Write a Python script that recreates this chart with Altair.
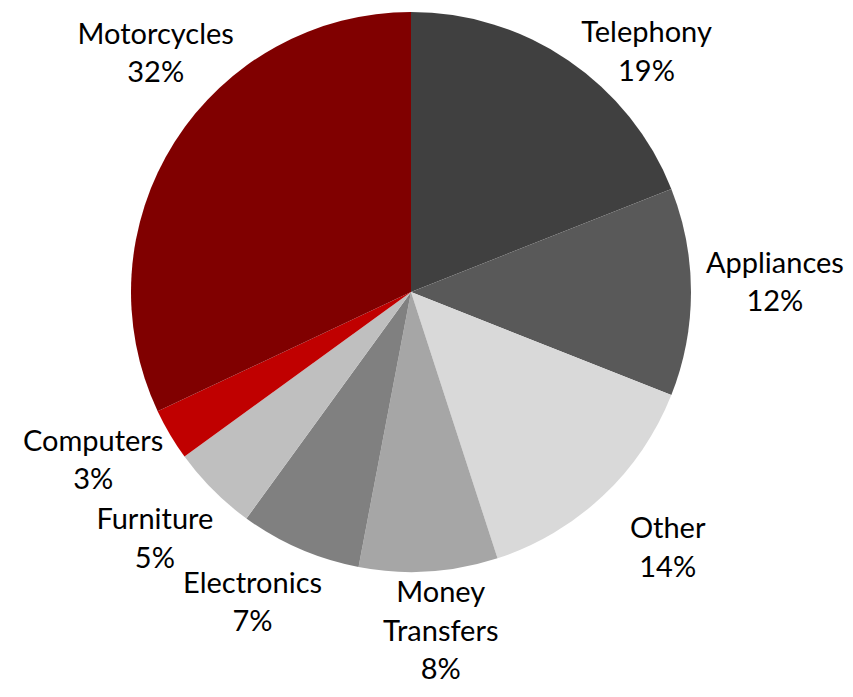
import math
import altair as alt
import pandas as pd

categories = ["Telephony", "Appliances", "Other", "Money Transfers", "Electronics",
              "Furniture", "Computers", "Motorcycles"]
values = [19, 12, 14, 8, 7, 5, 3, 32]
label_lines = ["Telephony", "Appliances", "Other", "Money\nTransfers", "Electronics",
               "Furniture", "Computers", "Motorcycles"]
colors = ["#404040", "#595959", "#d9d9d9", "#a6a6a6", "#808080", "#bfbfbf", "#c00000", "#800000"]

# label placement tweaks (presentation only): angle nudge in % of circle, radius in px
label_nudge = [2.86, -0.39, -0.5, -0.39, 1.0, 0.28, 0.72, 2.94]
label_radius = [336, 364, 363, 341, 349, 356, 360, 349]

LINE_H = 38.5
labels_txt = [f"{l}\n{v}%" for l, v in zip(label_lines, values)]
df = pd.DataFrame({
    "category": categories,
    "value": values,
    "order": list(range(len(categories))),
    "label": labels_txt,
    "nlines": [t.count("\n") + 1 for t in labels_txt],
    "nudge": label_nudge,
    "lr": label_radius,
})

CX, CY = 403, 284
base = alt.Chart(df)

arcs = base.mark_arc(outerRadius=280, stroke=None).encode(
    theta=alt.Theta("value:Q", stack=True),
    order=alt.Order("order:Q"),
    color=alt.Color("category:N", scale=alt.Scale(domain=categories, range=colors), legend=None),
    x=alt.value(CX),
    y=alt.value(CY),
)

labels = base.transform_window(
    cum="sum(value)", sort=[alt.SortField("order")], frame=[None, 0]
).transform_calculate(
    ang=f"(datum.cum - datum.value / 2 + datum.nudge) / 100 * 2 * PI"
).transform_calculate(
    lx=f"{CX} + datum.lr * sin(datum.ang)",
    ly=f"{CY} - datum.lr * cos(datum.ang) - (datum.nlines - 1) * {LINE_H} / 2",
).mark_text(
    font="Lato", fontSize=29, lineBreak="\n", lineHeight=LINE_H, color="black",
    align="center", baseline="middle"
).encode(
    x=alt.X("lx:Q", scale=None),
    y=alt.Y("ly:Q", scale=None),
    text="label:N",
)

chart = alt.layer(arcs, labels).properties(
    width=837, height=680, autosize="none", padding=0
).configure_view(stroke=None)

chart.save("out.html", embed_options={"renderer": "svg", "actions": False})
